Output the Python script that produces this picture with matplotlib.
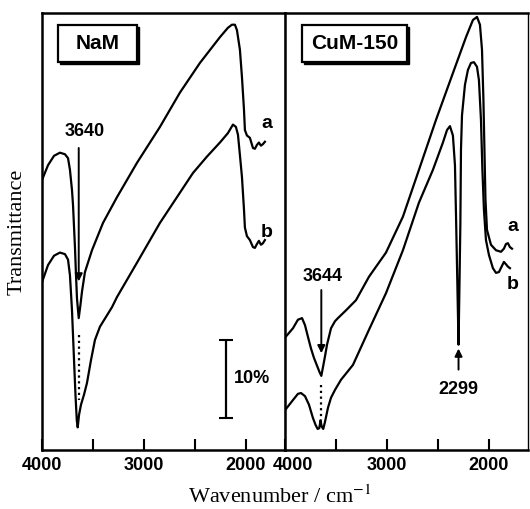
import matplotlib
matplotlib.use("Agg")
import matplotlib.pyplot as plt
from matplotlib.patches import Rectangle
from matplotlib.transforms import ScaledTranslation

plt.rcParams["font.family"] = ["Liberation Sans", "DejaVu Sans"]
plt.rcParams["mathtext.fontset"] = "stix"

# ---- spectra: wavenumber (cm-1) and transmittance (%, offset scale) ----
nam_a_wn = [4000, 3941, 3882, 3824, 3775, 3745, 3726, 3706, 3696, 3677, 3667, 3657,
            3640, 3623, 3608, 3579, 3510, 3402, 3265, 3069, 2844, 2648, 2452, 2256,
            2178, 2138, 2109, 2089, 2060, 2040, 2020, 2011, 1991, 1962, 1932, 1913,
            1893, 1874, 1854, 1834, 1815]
nam_a_t = [34.6, 36.5, 37.7, 38.1, 37.9, 37.4, 35.9, 33.3, 31.4, 26.0, 22.5, 19.4,
           16.9, 18.6, 20.3, 22.8, 25.6, 29.1, 32.4, 36.8, 41.4, 45.8, 49.6, 52.9,
           54.1, 54.5, 54.5, 53.8, 51.3, 47.8, 43.6, 41.0, 40.3, 40.0, 38.7, 38.6,
           39.1, 39.4, 39.0, 39.2, 39.5]

nam_b_wn = [4000, 3941, 3882, 3824, 3775, 3745, 3726, 3706, 3686, 3672, 3659, 3650,
            3637, 3618, 3588, 3559, 3520, 3481, 3432, 3314, 3265, 3069, 2844, 2677,
            2520, 2383, 2256, 2178, 2128, 2099, 2079, 2060, 2040, 2020, 2011, 1991,
            1962, 1932, 1913, 1893, 1874, 1854, 1834, 1815]
nam_b_t = [21.5, 23.7, 24.9, 25.3, 25.1, 24.4, 22.4, 17.9, 11.5, 7.1, 3.8, 2.9,
           4.5, 5.8, 7.1, 8.6, 11.5, 14.1, 15.8, 18.3, 19.6, 24.0, 29.1, 32.4,
           35.5, 37.6, 39.4, 40.6, 41.7, 41.4, 40.4, 37.8, 35.0, 30.8, 28.5, 27.4,
           26.9, 26.0, 25.9, 26.4, 26.8, 26.3, 26.5, 26.9]

cum_a_wn = [4000, 3922, 3873, 3833, 3804, 3775, 3745, 3716, 3686, 3662, 3644, 3625,
            3608, 3588, 3549, 3510, 3481, 3402, 3304, 3177, 3010, 2844, 2687, 2520,
            2354, 2226, 2158, 2118, 2089, 2069, 2055, 2045, 2035, 2020, 1981, 1932,
            1883, 1854, 1834, 1815, 1795, 1775]
cum_a_t = [14.4, 15.6, 16.7, 16.9, 16.0, 14.5, 13.0, 11.8, 10.8, 10.0, 9.5, 10.8,
           12.0, 13.5, 15.6, 16.5, 16.9, 17.9, 19.2, 22.2, 25.3, 29.9, 35.9, 42.3,
           48.3, 52.9, 55.1, 55.5, 54.5, 51.3, 44.9, 38.5, 32.1, 28.2, 26.3, 25.6,
           25.4, 25.8, 26.4, 26.5, 26.0, 25.8]

cum_b_wn = [4000, 3922, 3873, 3843, 3804, 3765, 3726, 3700, 3680, 3664, 3652, 3640,
            3625, 3608, 3579, 3549, 3510, 3451, 3334, 3177, 3010, 2844, 2687, 2550,
            2452, 2412, 2383, 2354, 2334, 2322, 2310, 2299, 2290, 2281, 2275, 2265,
            2236, 2207, 2177, 2148, 2118, 2099, 2079, 2065, 2050, 2030, 2001, 1962,
            1932, 1903, 1873, 1854, 1834, 1815, 1795]
cum_b_t = [5.1, 6.4, 7.2, 7.3, 6.9, 5.8, 4.1, 3.2, 2.7, 2.8, 3.8, 3.0,
           2.7, 3.6, 5.4, 6.7, 7.7, 9.0, 10.9, 15.4, 20.1, 25.6, 31.7, 35.9,
           39.4, 41.0, 41.5, 40.3, 36.5, 29.0, 21.0, 13.5, 21.0, 29.0, 38.5, 42.9,
           46.8, 48.7, 49.6, 49.7, 49.1, 47.4, 42.3, 35.9, 30.8, 26.9, 25.0, 23.3,
           22.7, 22.8, 23.6, 24.1, 23.8, 23.5, 23.3]

x_ticks = [4000, 3500, 3000, 2500, 2000]
x_tick_labels = ["4000", "", "3000", "", "2000"]
panel_titles = ["NaM", "CuM-150"]

W, H = 530, 509
fig = plt.figure(figsize=(W / 100, H / 100), dpi=100)
ax1 = fig.add_axes([42 / W, 59 / H, 243 / W, 437 / H])
ax2 = fig.add_axes([285 / W, 59 / H, 243 / W, 437 / H])

sans_bold = dict(family=["Liberation Sans", "DejaVu Sans"], weight="bold")

for ax, title, bx in ((ax1, panel_titles[0], (0.066, 0.391)),
                      (ax2, panel_titles[1], (0.070, 0.502))):
    ax.set_xlim(4000, 1618)
    ax.set_ylim(0, 56)
    ax.set_yticks([])
    ax.set_xticks(x_ticks)
    ax.set_xticklabels(x_tick_labels, fontsize=13, fontweight="bold")
    ax.tick_params(axis="x", direction="in", length=8, width=1.5, pad=5)
    for sp in ax.spines.values():
        sp.set_linewidth(1.8)
    ax.spines["right"].set_linewidth(1.0)
    # framed sample name with a small drop shadow
    x0, x1 = bx
    y0, y1 = 0.889, 0.973
    dx, dy = 2.2 / 243, 2.2 / 437
    ax.add_patch(Rectangle((x0 + dx, y0 - dy), x1 - x0, y1 - y0, transform=ax.transAxes,
                           facecolor="black", edgecolor="black", zorder=4))
    ax.add_patch(Rectangle((x0, y0), x1 - x0, y1 - y0, transform=ax.transAxes,
                           facecolor="white", edgecolor="black", lw=1.6, zorder=5))
    ax.text((x0 + x1) / 2, (y0 + y1) / 2, title, transform=ax.transAxes,
            ha="center", va="center", fontsize=15, zorder=6, **sans_bold)

# shift the right panel's 4000 label off the shared border
for lab in ax2.get_xticklabels():
    if lab.get_text() == "4000":
        lab.set_transform(lab.get_transform() + ScaledTranslation(0.08, 0, fig.dpi_scale_trans))

lw = 1.6
ax1.plot(nam_a_wn, nam_a_t, color="black", lw=lw)
ax1.plot(nam_b_wn, nam_b_t, color="black", lw=lw)
ax2.plot(cum_a_wn, cum_a_t, color="black", lw=lw)
ax2.plot(cum_b_wn, cum_b_t, color="black", lw=lw)

# curve labels
ax1.text(1795, 41.9, "a", fontsize=14, ha="center", va="center", **sans_bold)
ax1.text(1795, 27.9, "b", fontsize=14, ha="center", va="center", **sans_bold)
ax2.text(1766, 28.6, "a", fontsize=14, ha="center", va="center", **sans_bold)
ax2.text(1766, 21.2, "b", fontsize=14, ha="center", va="center", **sans_bold)

arrow = dict(arrowstyle="-|>", color="black", lw=1.4, mutation_scale=11,
             shrinkA=0, shrinkB=0)

# OH band markers
ax1.annotate("", xy=(3640, 21.6), xytext=(3640, 38.7), arrowprops=arrow)
ax1.text(3580, 40.8, "3640", fontsize=13, ha="center", va="center", **sans_bold)
ax1.plot([3640, 3640], [14.7, 6.4], color="black", lw=1.6, ls=(0, (1, 1.6)))

ax2.annotate("", xy=(3644, 12.4), xytext=(3644, 20.5), arrowprops=arrow)
ax2.text(3628, 22.2, "3644", fontsize=13, ha="center", va="center", **sans_bold)
ax2.plot([3644, 3644], [8.3, 3.8], color="black", lw=1.6, ls=(0, (1, 1.6)))

# adsorbed CO2 band
ax2.annotate("", xy=(2299, 13.0), xytext=(2299, 10.3), arrowprops=arrow)
ax2.text(2299, 7.7, "2299", fontsize=13, ha="center", va="center", **sans_bold)

# 10 % transmittance scale bar
ax1.errorbar([2197], [9.1], yerr=[5.0], color="black", capsize=5,
             capthick=1.5, elinewidth=1.6, fmt="none")
ax1.text(2115, 9.1, "10%", fontsize=13, ha="left", va="center", **sans_bold)

serif = ["Liberation Serif", "DejaVu Serif"]
fig.text(280 / W, 1 - 497 / H, r"Wavenumber / cm$^{-1}$", family=serif,
         fontsize=16, ha="center", va="center")
fig.text(17 / W, 1 - 232 / H, "Transmittance", family=serif, fontsize=16,
         rotation=90, ha="center", va="center")

fig.savefig("out.png", dpi=100, facecolor="white")
